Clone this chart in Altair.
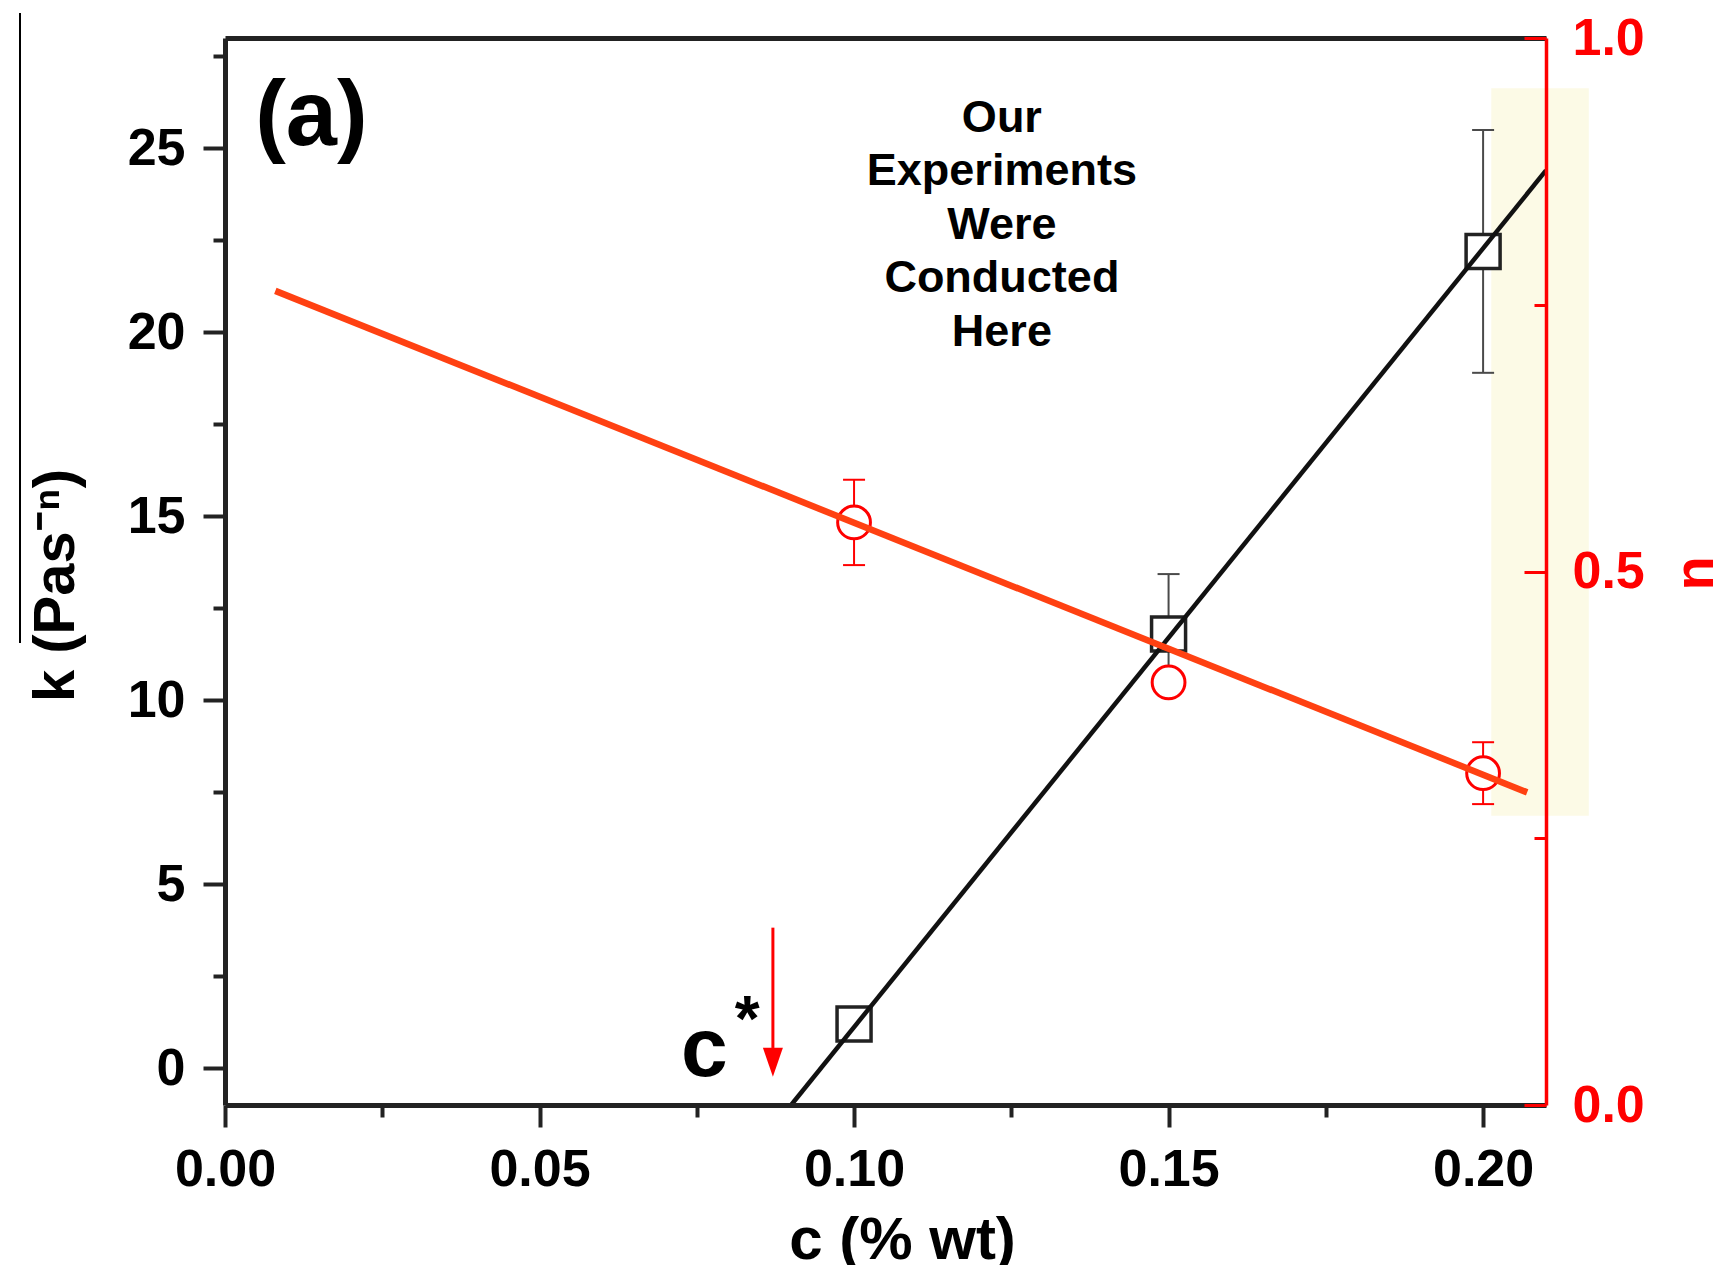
import altair as alt
import pandas as pd

W, H = 1321, 1067
FONT = "Liberation Sans"
RED = "#ff0000"
FIT_RED = "#ff4112"
INK = "#222222"
BAR_GREY = "#4a4a4a"

# measured samples: concentration (% wt), consistency index k and flow index n
conc = [0.10, 0.15, 0.20]
k_vals = [1.2, 11.8, 22.2]
k_errs = [0.35, 1.63, 3.3]
n_vals = [0.546, 0.396, 0.311]
n_errs = [0.040, 0.012, 0.029]

# straight-line fits, given by their end points
k_fit_c = [0.090, 0.210]
k_fit_k = [-1.0, 24.4]
n_fit_c = [0.008, 0.207]
n_fit_n = [0.763, 0.293]

# shaded window where the experiments were run
band_c = [0.2013, 0.2168]
band_n = [0.271, 0.953]

# c* marker: arrow position and its k span
cstar_c = 0.0871
arrow_k = [3.82, 0.55]
arrow_head_k = 0.16

# axis ticks
x_major = [0.00, 0.05, 0.10, 0.15, 0.20]
x_minor = [0.025, 0.075, 0.125, 0.175]
k_major = [0, 5, 10, 15, 20, 25]
k_minor = [2.5, 7.5, 12.5, 17.5, 22.5, 27.5]
n_major = [0.0, 0.5, 1.0]
n_minor = [0.25, 0.75]

# annotations (note_k is the k level of the note's first line)
note_text = "Our\nExperiments\nWere\nConducted\nHere"
note_c, note_k = 0.1235, 25.83
panel_text = "(a)"
panel_c, panel_k = 0.0048, 25.08
cstar_text = "c"
cstar_label_c, cstar_label_k = 0.0762, -0.2
star_text = "*"
star_c, star_k = 0.083, 0.75

XS = alt.Scale(domain=[0, 0.21], nice=False, zero=False)
KS = alt.Scale(domain=[-1, 28], nice=False, zero=False)
NS = alt.Scale(domain=[0, 1], nice=False, zero=False)

LABELS = dict(grid=False, labelFlush=False, labelOverlap=False, labelFont=FONT,
              labelFontSize=52, labelFontWeight="bold", titleFont=FONT,
              titleFontWeight="bold", zindex=1)

# ---- axes -------------------------------------------------------------
x_major_axis = alt.Axis(values=x_major, format=".2f", orient="bottom", tickSize=22,
                        tickWidth=4, tickColor=INK, domainColor=INK, domainWidth=5,
                        labelColor="black", labelPadding=17, title="c (% wt)",
                        titleFontSize=60, titleX=677, titleY=153,
                        titleBaseline="alphabetic", titleAlign="center",
                        titleColor="black", **LABELS)
x_minor_axis = alt.Axis(values=x_minor, orient="bottom", tickSize=12, tickWidth=4,
                        tickColor=INK, domain=False, labels=False, grid=False,
                        title=None, zindex=1)
top_frame_axis = alt.Axis(orient="top", ticks=False, labels=False, domainColor=INK,
                          domainWidth=5, grid=False, title=None, zindex=1)

k_major_axis = alt.Axis(values=k_major, format="d", orient="left", tickSize=22,
                        tickWidth=4, tickColor=INK, domainColor=INK, domainWidth=5,
                        labelColor="black", labelPadding=18, title="k (Pas⁻ⁿ)",
                        titleFontSize=58, titleAngle=270, titleX=-169, titleY=547,
                        titleAlign="center", titleBaseline="middle",
                        titleColor="black", **LABELS)
k_minor_axis = alt.Axis(values=k_minor, orient="left", tickSize=12, tickWidth=4,
                        tickColor=INK, domain=False, labels=False, grid=False,
                        title=None, zindex=1)

n_label_axis = alt.Axis(values=n_major, format=".1f", orient="right", ticks=False,
                        domainColor=RED, domainWidth=3.5, labelColor=RED,
                        labelPadding=26, title="n", titleColor=RED, titleFontSize=56,
                        titleAngle=270, titleX=149, titleY=535, titleAlign="center",
                        titleBaseline="middle", **LABELS)
# inward ticks on the right-hand n axis
n_tick_major = alt.Axis(values=n_major, orient="left", offset=-W, tickSize=22,
                        tickWidth=3, tickColor=RED, domain=False, labels=False,
                        grid=False, title=None, zindex=1)
n_tick_minor = alt.Axis(values=n_minor, orient="left", offset=-W, tickSize=12,
                        tickWidth=3, tickColor=RED, domain=False, labels=False,
                        grid=False, title=None, zindex=1)

# ---- data tables ------------------------------------------------------
df_k = pd.DataFrame({
    "c": conc, "k": k_vals,
    "lo": [v - e for v, e in zip(k_vals, k_errs)],
    "hi": [v + e for v, e in zip(k_vals, k_errs)],
})
df_kcap = pd.DataFrame({"c": conc * 2, "v": list(df_k["lo"]) + list(df_k["hi"])})
df_n = pd.DataFrame({
    "c": conc, "n": n_vals,
    "lo": [v - e for v, e in zip(n_vals, n_errs)],
    "hi": [v + e for v, e in zip(n_vals, n_errs)],
})
df_ncap = pd.DataFrame({"c": conc * 2, "v": list(df_n["lo"]) + list(df_n["hi"])})
df_kfit = pd.DataFrame({"c": k_fit_c, "k": k_fit_k})
df_nfit = pd.DataFrame({"c": n_fit_c, "n": n_fit_n})
df_band = pd.DataFrame({"c0": [band_c[0]], "c1": [band_c[1]],
                        "n0": [band_n[0]], "n1": [band_n[1]]})
df_arrow = pd.DataFrame({"c": [cstar_c], "k0": [arrow_k[0]], "k1": [arrow_k[1]],
                         "kh": [arrow_head_k]})
df_note = pd.DataFrame({"c": [note_c], "k": [note_k], "t": [note_text]})
df_panel = pd.DataFrame({"c": [panel_c], "k": [panel_k], "t": [panel_text]})
df_cstar = pd.DataFrame({"c": [cstar_label_c], "k": [cstar_label_k], "t": [cstar_text]})
df_star = pd.DataFrame({"c": [star_c], "k": [star_k], "t": [star_text]})


def X(field, axis=None):
    return alt.X(field, type="quantitative", scale=XS, axis=axis)


def YK(field, axis=None):
    return alt.Y(field, type="quantitative", scale=KS, axis=axis)


def YN(field, axis=None):
    return alt.Y(field, type="quantitative", scale=NS, axis=axis)


band = alt.Chart(df_band).mark_rect(color="#fcfae6").encode(
    x=X("c0"), x2="c1", y=YN("n0"), y2="n1")

k_err = alt.Chart(df_k).mark_rule(color=BAR_GREY, strokeWidth=2).encode(
    x=X("c", x_minor_axis), y=YK("lo", k_minor_axis), y2="hi")
k_cap = alt.Chart(df_kcap).mark_tick(orient="horizontal", size=22, thickness=2,
                                     color=BAR_GREY, opacity=1).encode(
    x=X("c"), y=YK("v"))

n_err = alt.Chart(df_n).mark_rule(color=RED, strokeWidth=2).encode(
    x=X("c"), y=YN("lo", n_tick_minor), y2="hi")
n_cap = alt.Chart(df_ncap).mark_tick(orient="horizontal", size=22, thickness=2,
                                     color=RED, opacity=1).encode(
    x=X("c"), y=YN("v"))

squares = alt.Chart(df_k).mark_point(shape="square", filled=True, fill="white",
                                     stroke=INK, strokeWidth=3.5, size=1156,
                                     opacity=1).encode(
    x=X("c", x_major_axis), y=YK("k", k_major_axis))
circles = alt.Chart(df_n).mark_point(shape="circle", filled=True, fill="white",
                                     stroke=RED, strokeWidth=3, size=1075,
                                     opacity=1).encode(
    x=X("c", top_frame_axis), y=YN("n", n_label_axis))

k_line = alt.Chart(df_kfit).mark_line(color="#111111", strokeWidth=4.5).encode(
    x=X("c"), y=YK("k"))
n_line = alt.Chart(df_nfit).mark_line(color=FIT_RED, strokeWidth=6.5).encode(
    x=X("c"), y=YN("n", n_tick_major))

note = alt.Chart(df_note).mark_text(font=FONT, fontSize=45, fontWeight="bold",
                                    lineHeight=53.5, lineBreak="\n", align="center",
                                    baseline="middle", color="black").encode(
    x=X("c"), y=YK("k"), text="t:N")
panel = alt.Chart(df_panel).mark_text(font=FONT, fontSize=92, fontWeight="bold",
                                      align="left", baseline="alphabetic",
                                      color="black").encode(
    x=X("c"), y=YK("k"), text="t:N")
cstar = alt.Chart(df_cstar).mark_text(font=FONT, fontSize=84, fontWeight="bold",
                                      align="center", baseline="alphabetic",
                                      color="black").encode(
    x=X("c"), y=YK("k"), text="t:N")
star = alt.Chart(df_star).mark_text(font=FONT, fontSize=64, fontWeight="bold",
                                    align="center", baseline="alphabetic",
                                    color="black").encode(
    x=X("c"), y=YK("k"), text="t:N")

arrow_shaft = alt.Chart(df_arrow).mark_rule(color=RED, strokeWidth=3).encode(
    x=X("c"), y=YK("k0"), y2="k1")
arrow_head = alt.Chart(df_arrow).mark_point(shape="M-0.69,-1L0.69,-1L0,1Z",
                                            filled=True, color=RED, size=841,
                                            opacity=1).encode(
    x=X("c"), y=YK("kh"))

# thin rule at the far left of the page
edge = alt.Chart(pd.DataFrame({"a": [0]})).mark_rule(color="black", strokeWidth=2).encode(
    x=alt.value(-205), y=alt.value(-25), y2=alt.value(605))

chart = alt.layer(
    band, k_err, k_cap, n_err, n_cap, squares, circles, k_line, n_line,
    note, panel, cstar, star, arrow_shaft, arrow_head, edge,
).resolve_scale(
    x="independent", y="independent"
).properties(
    width=W, height=H,
    autosize=alt.AutoSizeParams(type="none"),
    padding={"left": 225, "top": 38, "right": 169, "bottom": 160},
    background="white",
).configure_view(stroke=None)

chart.save("out.html", embed_options={"renderer": "svg", "actions": False})
